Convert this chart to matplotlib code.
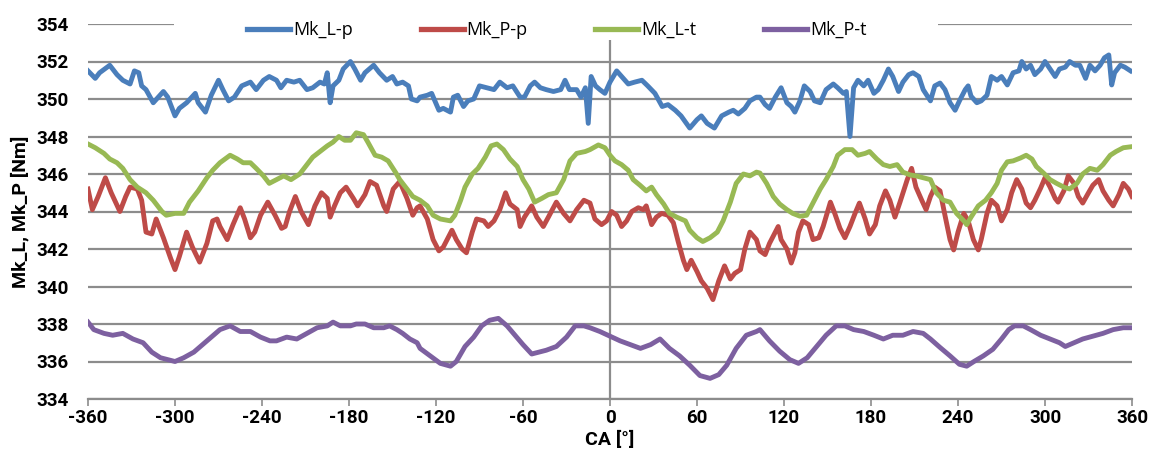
import matplotlib
matplotlib.use("Agg")
import matplotlib.pyplot as plt
from matplotlib.patches import Rectangle

# Crank angle [deg] and torque [Nm], one pair of lists per trace
ca_lp = [-360, -355, -352, -345, -340, -336, -331, -328, -325, -323, -320, -315, -308, -305, -300,
         -297, -292, -286, -284, -279, -275, -270, -267, -263, -259, -254,
         -248, -244, -239, -235, -230, -227, -223, -218, -214, -209, -205, -200, -197, -195, -193,
         -191, -187, -184, -179, -176, -172, -169, -163, -159, -154, -150, -147, -143, -139, -137, -133,
         -131, -126, -123, -118, -115, -110, -108, -105, -101, -98, -94, -90, -85, -80, -76, -71,
         -67, -62, -59, -55, -52, -48, -44, -39, -34, -31, -28, -23, -20, -17, -15, -13,
         -10, -7, -3.5, 0, 4.6, 8, 12.6, 17, 22, 26, 31, 36, 40, 45, 49, 55, 60, 63, 67, 72, 77,
         82, 85, 88.5, 93, 96.5, 101,
         103.4, 107, 110, 114, 118, 122, 125, 127.5, 131, 134, 138, 141, 145, 149, 154, 157, 161,
         163, 165.5, 168, 171, 175, 178, 182, 185, 188.5, 192, 195, 199, 202, 206, 209, 213, 216,
         221, 224, 227.6, 231, 234.5, 238, 241, 245, 247, 249, 253, 256, 260, 263, 267, 270, 274,
         278, 282, 284, 287, 290, 293, 297, 300, 303.5, 307, 310, 314, 317, 321, 324, 328, 331,
         334.5, 338, 341, 344, 346, 348, 352, 355, 359]
mk_lp = [351.5, 351.1, 351.4, 351.8, 351.3, 351.0, 350.8, 351.5, 351.4, 350.7, 350.5, 349.8, 350.4, 350.1, 349.1,
         349.5, 349.8, 350.3, 349.8, 349.3, 350.2, 351.0, 350.5, 349.9, 350.1, 350.7,
         350.9, 350.5, 351.0, 351.2, 351.0, 350.6, 351.0, 350.9, 351.0, 350.5, 350.6, 350.9, 350.8, 351.4, 349.8,
         350.7, 351.0, 351.6, 352.0, 351.6, 351.0, 351.4, 351.8, 351.4, 351.0, 351.2, 350.8, 350.9, 350.7, 350.0, 349.9,
         350.1, 350.2, 350.3, 349.4, 349.5, 349.3, 350.1, 350.2, 349.6, 349.9, 350.0, 350.7, 350.6, 350.5, 350.9, 350.6,
         350.7, 350.1, 350.1, 350.7, 350.9, 350.6, 350.5, 350.4, 350.5, 351.0, 350.5, 350.5, 350.1, 350.6, 348.7, 351.2,
         350.7, 350.5, 350.3, 350.9, 351.5, 351.2, 350.8, 350.9, 351.0, 350.7, 350.3, 349.6, 349.7, 349.4, 349.1, 348.45,
         348.9, 349.1, 348.7, 348.45, 349.1, 349.3, 349.4, 349.2, 349.5, 349.9, 350.1,
         350.1, 349.7, 349.5, 350.1, 350.6, 349.8, 349.6, 349.3, 349.9, 350.7, 350.4, 349.9, 349.8, 350.5, 350.8, 350.6, 350.3,
         350.4, 348.0, 350.6, 351.0, 350.7, 351.0, 350.3, 350.5, 351.0, 351.6, 351.2, 350.4, 350.9, 351.3, 351.4, 351.2, 350.5,
         349.9, 350.7, 350.85, 350.5, 349.8, 349.4, 349.9, 350.5, 350.7, 350.15, 349.8, 349.9, 350.2, 351.2, 351.0, 351.2, 350.75,
         351.4, 351.5, 352.0, 351.6, 351.8, 351.3, 351.6, 352.0, 351.6, 351.2, 351.6, 351.7, 352.0, 351.8, 351.8, 351.1, 351.8,
         351.5, 351.8, 352.2, 352.35, 350.75, 351.4, 351.8, 351.7, 351.5]

ca_pp = [-360, -357, -353, -348, -344, -338, -334, -331, -326, -323, -320, -316, -313, -308, -303, -300,
         -297, -292, -288, -283, -278, -274, -271, -269, -264, -260, -255, -252,
         -248, -245, -241, -236, -231, -226.5, -224, -221, -217, -213, -208, -203.5, -199, -195, -193,
         -190, -186, -182, -177, -174, -169, -165.5, -161, -156, -154, -149.5, -145, -140, -136, -133,
         -131, -126, -122, -118, -115, -109, -106, -102, -99, -95, -92, -87, -84, -80, -76, -72, -69,
         -64, -62, -59, -54, -50.5, -46, -42.5, -37, -32, -27.6, -23, -18,
         -13.8, -10.4, -5.8, -2.3, 1.1, 4.6, 8, 11.5, 15, 19.5, 23, 25, 28.7, 32, 35.6, 40, 43.7, 47,
         50.6, 53, 56, 60, 63, 67, 71, 75, 79, 83, 86, 90, 93, 96.5, 101,
         103.4, 107, 110, 114, 116, 118, 122, 125, 127.5, 130, 133, 137, 140, 144, 147, 152, 155,
         158.6, 162, 165.5, 169, 172, 176, 179, 183, 186, 190, 193, 196.5, 200, 205, 208, 211, 215, 218,
         221, 224, 227.6, 231, 234.5, 237, 240, 244, 247, 250.6, 254, 256, 260, 263, 267, 270, 274,
         277, 280.5, 284, 287, 290, 293, 297, 300, 303.5, 307, 309, 313, 316, 320, 323, 326, 330,
         333, 337, 340, 344, 347, 351, 354, 357.5, 360]
mk_pp = [345.2, 344.1, 344.8, 345.8, 345.0, 344.0, 344.8, 345.3, 345.2, 344.6, 342.9, 342.8, 343.6, 342.6, 341.5, 340.9,
         341.6, 342.9, 342.1, 341.3, 342.3, 343.5, 343.6, 343.2, 342.5, 343.3, 344.2, 343.6,
         342.6, 342.9, 343.8, 344.5, 343.8, 343.1, 343.2, 344.0, 344.8, 344.0, 343.3, 344.3, 345.0, 344.7, 343.7,
         344.3, 345.0, 345.3, 344.7, 344.3, 344.9, 345.6, 345.4, 344.3, 344.0, 345.2, 345.6, 344.7, 343.8, 344.2,
         344.3, 343.6, 342.5, 341.9, 342.1, 343.0, 342.5, 342.0, 341.8, 342.9, 343.6, 343.5, 343.2, 343.5, 344.1, 345.0, 344.4,
         344.1, 343.2, 343.7, 344.3, 343.7, 343.2, 343.7, 344.5, 343.9, 343.5, 344.1, 344.6,
         344.45, 343.6, 343.3, 343.5, 344.0, 343.8, 343.2, 343.5, 344.0, 344.2, 344.1, 344.3, 343.3, 343.7, 343.9, 343.8, 343.4, 342.4,
         341.4, 340.9, 341.4, 340.8, 340.3, 339.9, 339.3, 340.3, 341.1, 340.4, 340.7, 340.9, 342.0, 342.9, 342.5,
         341.9, 341.7, 342.3, 342.9, 343.2, 342.5, 342.0, 341.25, 341.8, 342.9, 343.5, 343.3, 342.5, 342.6, 343.2, 344.5, 343.9,
         343.1, 342.6, 343.2, 343.9, 344.45, 343.6, 342.8, 343.3, 344.3, 345.1, 344.6, 343.7, 344.5, 345.7, 346.3, 345.3, 344.6, 344.1,
         344.8, 345.3, 345.1, 343.8, 342.5, 341.95, 342.9, 343.9, 343.5, 342.5, 341.95, 342.5, 343.9, 344.6, 344.3, 343.5, 344.1,
         345.0, 345.7, 345.2, 344.45, 344.2, 344.6, 345.25, 345.8, 345.3, 344.7, 344.5, 345.1, 345.9, 345.5, 344.8, 344.45, 345.0,
         345.4, 345.7, 345.1, 344.6, 344.3, 344.9, 345.5, 345.2, 344.8]

ca_lt = [-360, -355, -349, -345, -340, -336, -331, -326, -320, -315, -309, -306, -300, -294, -290, -284,
         -278, -274, -269, -262, -257, -253,
         -248, -244, -239, -235, -230, -225, -220, -214, -209, -205, -200, -195, -191, -187, -183, -179,
         -175, -170, -167, -162, -157.5, -153, -148, -145, -140, -136,
         -131, -126, -122, -117, -110, -107, -103, -100, -95, -91, -86, -82, -78, -73.5, -69, -64, -60,
         -56, -52, -47, -42.5, -37, -32, -27.6, -23, -17,
         -13.8, -8, -3.5, 0, 3.4, 8, 12.6, 16, 20.7, 25, 28.7, 32, 37, 41, 46, 52, 55, 60, 64, 69, 74,
         78, 83, 87, 92, 96.5, 101,
         103.4, 108, 112.6, 117, 122, 126, 131, 135.6, 140, 145, 149, 154, 157, 162, 167, 171, 176, 179,
         184, 188.5, 193, 198, 202, 207, 211, 216,
         221, 225, 230, 234.5, 239, 244, 246, 249, 254, 259, 263, 267, 270, 274, 278, 283, 287, 291,
         294, 299, 303.5, 308, 313, 317, 322, 326, 331, 336, 340, 345, 349, 354, 359]
mk_lt = [347.6, 347.4, 347.1, 346.8, 346.6, 346.3, 345.7, 345.3, 345.0, 344.6, 344.0, 343.8, 343.9, 343.9, 344.5, 345.1,
         345.8, 346.2, 346.6, 347.0, 346.8, 346.6,
         346.6, 346.3, 345.9, 345.5, 345.7, 345.9, 345.7, 346.0, 346.5, 346.9, 347.2, 347.5, 347.7, 348.0, 347.8, 347.8,
         348.2, 348.1, 347.7, 347.0, 346.9, 346.7, 346.1, 345.7, 345.2, 344.8,
         344.6, 344.3, 343.8, 343.6, 343.5, 343.8, 344.6, 345.3, 346.0, 346.3, 346.9, 347.5, 347.6, 347.3, 346.8, 346.4, 345.7,
         345.2, 344.5, 344.7, 344.9, 345.0, 345.7, 346.7, 347.1, 347.2,
         347.3, 347.55, 347.4, 347.0, 346.7, 346.5, 346.2, 345.7, 345.4, 345.1, 345.3, 344.9, 344.4, 343.9, 343.7, 343.5, 343.0,
         342.6, 342.4, 342.6, 342.9, 343.5, 344.5, 345.5, 346.0, 345.9, 346.1,
         346.05, 345.5, 344.8, 344.4, 344.1, 343.9, 343.75, 343.8, 344.45, 345.2, 345.7, 346.4, 347.0, 347.3, 347.3, 347.0,
         347.1, 347.2, 346.8, 346.5, 346.4, 346.5, 346.1, 345.95, 345.9, 345.8,
         345.7, 345.0, 344.6, 344.5, 343.9, 343.5, 343.3, 343.7, 344.3, 344.6, 345.0, 345.5, 346.2, 346.65, 346.7, 346.85,
         347.0, 346.8, 346.4, 346.05, 345.7, 345.5, 345.3, 345.2, 345.5, 346.0, 346.3, 346.2, 346.5, 347.0, 347.2, 347.4, 347.45]

ca_pt = [-360, -356, -349, -343, -336, -329, -322, -316, -310, -305, -300, -294, -287, -281, -275, -269, -262, -255,
         -248, -241, -234.5, -230, -223, -216, -209, -202, -195, -191, -186, -179, -175, -169, -163, -156,
         -152, -147, -143, -138, -133,
         -131, -124, -117, -110, -106, -100, -94, -88.5, -83, -77, -71, -65.5, -60, -54, -49, -44, -37,
         -30, -24, -18,
         -13.8, -7, 0, 7, 14, 21, 28, 34.5, 41, 48, 55, 62, 69, 75, 80.5, 87, 94, 101,
         103.4, 110, 117, 124, 130, 136, 142.5, 149, 156, 162, 168, 175, 182, 188.5, 195, 202, 209, 216,
         221, 227.6, 234.5, 241, 246, 251, 257.5, 264, 270, 275, 279, 285, 290, 297, 303.5, 310, 314,
         320, 326, 333, 340, 347, 354, 360]
mk_pt = [338.1, 337.7, 337.5, 337.4, 337.5, 337.2, 337.0, 336.5, 336.2, 336.1, 336.0, 336.2, 336.5, 336.9, 337.3, 337.7, 337.9, 337.6,
         337.6, 337.3, 337.1, 337.1, 337.3, 337.2, 337.5, 337.8, 337.9, 338.1, 337.9, 337.9, 338.0, 338.0, 337.8, 337.8,
         337.9, 337.7, 337.5, 337.2, 337.0,
         336.7, 336.3, 335.9, 335.75, 336.0, 336.8, 337.3, 337.9, 338.2, 338.3, 337.9, 337.4, 336.9, 336.4, 336.5, 336.6, 336.8,
         337.3, 337.9, 337.9,
         337.8, 337.6, 337.35, 337.1, 336.9, 336.7, 336.9, 337.2, 336.7, 336.3, 335.8, 335.25, 335.1, 335.3, 335.8, 336.7, 337.4, 337.6,
         337.7, 337.1, 336.55, 336.1, 335.9, 336.2, 336.8, 337.4, 337.9, 337.9, 337.7, 337.6, 337.4, 337.2, 337.4, 337.4, 337.6, 337.5,
         337.2, 336.75, 336.3, 335.85, 335.75, 336.0, 336.3, 336.65, 337.2, 337.7, 337.9, 337.9, 337.7, 337.4, 337.2, 337.0, 336.8,
         337.0, 337.2, 337.35, 337.5, 337.7, 337.8, 337.8]

x_ticks = list(range(-360, 361, 60))
y_ticks = list(range(334, 355, 2))

plt.rcParams['font.family'] = ['Roboto', 'DejaVu Sans']
plt.rcParams['axes.unicode_minus'] = False

grid_col = '#8c8c8c'

fig = plt.figure(figsize=(11.5, 4.53), dpi=100)
ax = fig.add_axes([88 / 1150, 1 - 399 / 453, 1044 / 1150, 375 / 453])

ax.plot(ca_lp, mk_lp, color='#4a7ebb', lw=3.5, label='Mk_L-p', zorder=5)
ax.plot(ca_pp, mk_pp, color='#be4b48', lw=3.5, label='Mk_P-p', zorder=5)
ax.plot(ca_lt, mk_lt, color='#98b954', lw=3.5, label='Mk_L-t', zorder=5)
ax.plot(ca_pt, mk_pt, color='#7d60a0', lw=3.5, label='Mk_P-t', zorder=5)

ax.set_xlim(-360, 360)
ax.set_ylim(334, 354)
ax.set_xticks(x_ticks)
ax.set_yticks(y_ticks)

# horizontal grid, vertical axis crossing at 0 like the spreadsheet original
ax.yaxis.grid(True, color=grid_col, lw=1.6, zorder=1)
ax.set_axisbelow(True)
ax.axvline(0, color=grid_col, lw=1.6, zorder=2)
for s in ['left', 'right', 'top']:
    ax.spines[s].set_visible(False)
ax.spines['bottom'].set_color(grid_col)
ax.spines['bottom'].set_linewidth(1.6)

ax.tick_params(axis='y', length=0, pad=14, labelsize=13.5)
ax.tick_params(axis='x', direction='out', length=5, width=1.2, color=grid_col, pad=2, labelsize=13.5)
for lab in ax.get_xticklabels() + ax.get_yticklabels():
    lab.set_fontweight('bold')

ax.set_xlabel('CA [°]', fontsize=14, fontweight='bold')
ax.xaxis.set_label_coords(0.5, -0.085)
ax.set_ylabel('Mk_L, Mk_P [Nm]', fontsize=14, fontweight='bold')
ax.yaxis.set_label_coords(-0.056, 0.5)

# white box behind the legend hides the top grid line there
ax.add_patch(Rectangle((174 / 1150, 1 - 40 / 453), 764 / 1150, 30 / 453, transform=fig.transFigure,
                       facecolor='white', edgecolor='none', zorder=3, clip_on=False))
leg = ax.legend(loc='center', bbox_to_anchor=(557 / 1150, 1 - 30 / 453), bbox_transform=fig.transFigure,
                ncol=4, frameon=False, prop={'family': ['Open Sans', 'DejaVu Sans'], 'size': 13},
                handlelength=2.38, handletextpad=0.17, columnspacing=3.75)
for h in leg.get_lines():
    h.set_linewidth(3.8)
leg.set_zorder(6)

fig.savefig('out.png', dpi=100)
